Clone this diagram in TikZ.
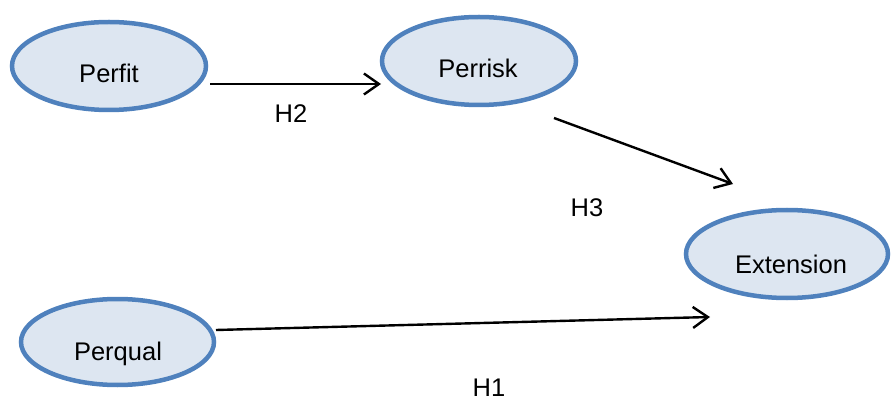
\documentclass[tikz,border=0pt]{standalone}
\usepackage{fontspec}
\setmainfont{Liberation Sans}
\usetikzlibrary{shapes.geometric,arrows.meta}
\definecolor{ellborder}{RGB}{79,129,189}
\definecolor{ellfill}{RGB}{221,230,241}
\tikzset{
  latent/.style={ellipse, draw=ellborder, fill=ellfill, line width=4.5pt, inner sep=0pt},
  lbl/.style={anchor=base, inner sep=0pt, font=\fontsize{25.5}{30}\selectfont},
  path/.style={line width=2.4pt, -{Straight Barb[length=15pt,width=21pt,line width=2.4pt]}}
}
\begin{document}
\begin{tikzpicture}[x=1pt,y=-1pt]
\useasboundingbox (0,0) rectangle (891,403);
\node[latent, minimum width=194pt, minimum height=88pt] (perfit) at (109,66) {};
\node[latent, minimum width=194pt, minimum height=88pt] (perrisk) at (479,61) {};
\node[latent, minimum width=202pt, minimum height=88pt] (ext) at (787,254) {};
\node[latent, minimum width=193pt, minimum height=86pt] (perqual) at (117.5,342) {};
\node[lbl] (tperfit) at (109,83) {Perfit};
\node[lbl] (tperrisk) at (478,78) {Perrisk};
\node[lbl] (text) at (791,273) {Extension};
\node[lbl] (tperqual) at (118,360) {Perqual};
\coordinate (a2s) at (210,84);
\coordinate (a2e) at (381,84);
\coordinate (a3s) at (554,118);
\coordinate (a3e) at (733,184);
\coordinate (a1s) at (216,330);
\coordinate (a1e) at (710,317);
\draw[path] (a2s) -- (a2e);
\draw[path] (a3s) -- (a3e);
\draw[path] (a1s) -- (a1e);
\node[lbl] (h2) at (291,123) {H2};
\node[lbl] (h3) at (587,217) {H3};
\node[lbl] (h1) at (489,396) {H1};
\end{tikzpicture}
\end{document}
